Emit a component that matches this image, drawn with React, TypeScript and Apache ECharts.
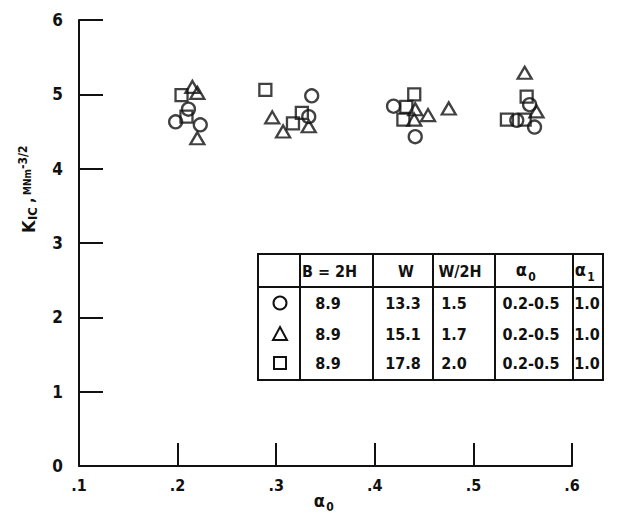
import React, { useEffect, useRef } from "react";
import * as echarts from "echarts";

// ---- data ----
const xTickLabels = [".1", ".2", ".3", ".4", ".5", ".6"];
const yTickLabels = ["0", "1", "2", "3", "4", "5", "6"];

const circleX = [0.198, 0.211, 0.223, 0.333, 0.336, 0.419, 0.441, 0.544, 0.557, 0.562];
const circleY = [4.63, 4.8, 4.59, 4.7, 4.98, 4.84, 4.43, 4.65, 4.86, 4.56];

const triangleX = [0.215, 0.22, 0.22, 0.296, 0.307, 0.333, 0.44, 0.441, 0.454, 0.475, 0.552, 0.564];
const triangleY = [5.1, 5.02, 4.41, 4.69, 4.5, 4.57, 4.66, 4.8, 4.72, 4.81, 5.29, 4.77];

const squareX = [0.204, 0.209, 0.289, 0.317, 0.326, 0.429, 0.432, 0.44, 0.534, 0.552, 0.554];
const squareY = [4.99, 4.7, 5.06, 4.61, 4.75, 4.66, 4.83, 5.0, 4.66, 4.66, 4.97];

// table contents
const tableHeaders = ["B = 2H", "W", "W/2H"];
const colB = ["8.9", "8.9", "8.9"];
const colW = ["13.3", "15.1", "17.8"];
const colRatio = ["1.5", "1.7", "2.0"];
const colA0 = ["0.2-0.5", "0.2-0.5", "0.2-0.5"];
const colA1 = ["1.0", "1.0", "1.0"];

const FONT = '"DejaVu Sans Condensed","Liberation Sans Narrow","DejaVu Sans",sans-serif';
const INK = "#111";

function zip(xs: number[], ys: number[]) {
  return xs.map((x, i) => [x, ys[i]]);
}

function txt(x: number, y: number, text: string, size: number, align: string = "center", weight: string = "bold") {
  return {
    type: "text",
    x,
    y,
    silent: true,
    style: {
      text,
      font: `${weight} ${size}px ${FONT}`,
      fill: INK,
      textAlign: align,
      textVerticalAlign: "middle",
    },
  };
}

function line(x1: number, y1: number, x2: number, y2: number) {
  return {
    type: "line",
    silent: true,
    shape: { x1, y1, x2, y2 },
    style: { stroke: INK, lineWidth: 2 },
  };
}

export default function App() {
  const ref = useRef<HTMLDivElement>(null);

  useEffect(() => {
    if (!ref.current) return;
    const chart = echarts.init(ref.current, undefined, { renderer: "svg" });

    const markerStyle = {
      color: "rgba(0,0,0,0)",
      borderColor: INK,
      borderWidth: 2.3,
    };

    // table geometry
    const tL = 258, tT = 254, tR = 603, tB = 380, hB = 287;
    const cols = [300, 373, 433, 495, 573];
    const rowY = [303, 334, 363];
    const symX = 280;

    const graphic: any[] = [];
    graphic.push({
      type: "rect",
      silent: true,
      shape: { x: tL, y: tT, width: tR - tL, height: tB - tT },
      style: { fill: "none", stroke: INK, lineWidth: 2 },
    });
    cols.forEach((c) => graphic.push(line(c, tT, c, tB)));
    graphic.push(line(tL, hB, tR, hB));
    // header
    graphic.push(txt(302, 271, tableHeaders[0], 16, "left"));
    graphic.push(txt(406, 271, tableHeaders[1], 16));
    graphic.push(txt(460, 271, tableHeaders[2], 16));
    graphic.push(txt(527, 269, "α", 18, "right"));
    graphic.push(txt(532, 277, "0", 12));
    graphic.push(txt(586, 269, "α", 18, "right"));
    graphic.push(txt(591, 277, "1", 12));
    // rows
    rowY.forEach((y, i) => {
      graphic.push(txt(328, y, colB[i], 16));
      graphic.push(txt(403, y, colW[i], 16));
      graphic.push(txt(454, y, colRatio[i], 16));
      graphic.push(txt(531, y, colA0[i], 16));
      graphic.push(txt(587, y, colA1[i], 16));
    });
    // legend symbols in table
    graphic.push({
      type: "circle",
      silent: true,
      shape: { cx: symX, cy: rowY[0], r: 6.5 },
      style: { fill: "none", stroke: INK, lineWidth: 2 },
    });
    graphic.push({
      type: "polygon",
      silent: true,
      shape: { points: [[symX, rowY[1] - 7], [symX + 7, rowY[1] + 6], [symX - 7, rowY[1] + 6]] },
      style: { fill: "none", stroke: INK, lineWidth: 2 },
    });
    graphic.push({
      type: "rect",
      silent: true,
      shape: { x: symX - 6, y: rowY[2] - 6, width: 12, height: 12 },
      style: { fill: "none", stroke: INK, lineWidth: 2 },
    });

    // y-axis title (rotated)
    graphic.push({
      type: "group",
      x: 28,
      y: 233,
      rotation: Math.PI / 2,
      silent: true,
      children: [
        txt(0, 0, "K", 18, "left"),
        txt(13, 4, "IC", 13, "left"),
        txt(30, 0, ",", 16, "left"),
        txt(38, -1, "MNm", 10, "left"),
        txt(64, -5, "-3/2", 12, "left"),
      ],
    });

    // x-axis title
    graphic.push(txt(325, 500, "α", 18, "right"));
    graphic.push(txt(330, 507, "0", 12));

    chart.setOption({
      animation: false,
      backgroundColor: "#fff",
      grid: { left: 79, top: 20, width: 493, height: 446, containLabel: false },
      xAxis: {
        type: "value",
        min: 0.1,
        max: 0.6,
        interval: 0.1,
        axisLine: { show: true, lineStyle: { color: INK, width: 2 } },
        axisTick: { show: true, inside: true, length: 23, lineStyle: { color: INK, width: 2 } },
        splitLine: { show: false },
        axisLabel: {
          margin: 11,
          color: INK,
          fontSize: 16,
          fontWeight: "bold",
          fontFamily: FONT,
          formatter: (v: number) => xTickLabels[Math.round(v * 10) - 1] ?? "",
        },
      },
      yAxis: {
        type: "value",
        min: 0,
        max: 6,
        interval: 1,
        axisLine: { show: true, lineStyle: { color: INK, width: 2 } },
        axisTick: { show: true, inside: true, length: 24, lineStyle: { color: INK, width: 2 } },
        splitLine: { show: false },
        axisLabel: {
          margin: 16,
          color: INK,
          fontSize: 17,
          fontWeight: "bold",
          fontFamily: FONT,
          formatter: (v: number) => yTickLabels[Math.round(v)] ?? "",
        },
      },
      series: [
        {
          type: "scatter",
          name: "circle",
          symbol: "circle",
          symbolSize: 13,
          itemStyle: markerStyle,
          data: zip(circleX, circleY),
        },
        {
          type: "scatter",
          name: "triangle",
          symbol: "triangle",
          symbolSize: [14, 12],
          itemStyle: markerStyle,
          data: zip(triangleX, triangleY),
        },
        {
          type: "scatter",
          name: "square",
          symbol: "rect",
          symbolSize: 12,
          itemStyle: markerStyle,
          data: zip(squareX, squareY),
        },
      ],
      graphic,
    });

    return () => chart.dispose();
  }, []);

  return (
    <div
      ref={ref}
      style={{ position: "fixed", left: 0, top: 0, width: 643, height: 527, background: "#fff" }}
    />
  );
}
